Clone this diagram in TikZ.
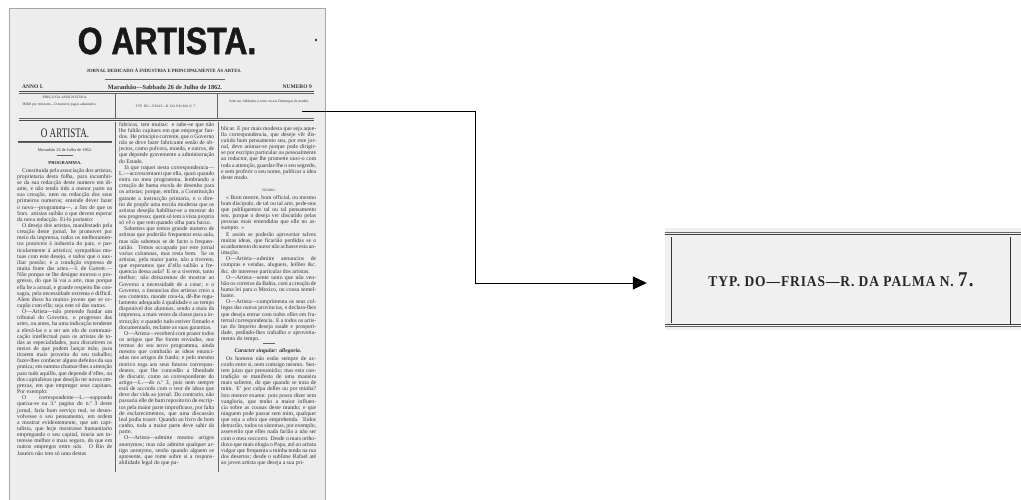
\documentclass[tikz,border=0pt]{standalone}
\usepackage{fontspec}
\usepackage{tikz}
\usetikzlibrary{calc,arrows.meta}

\setmainfont{Liberation Serif}
\newfontfamily\titrefont[FakeStretch=0.84,FakeBold=1.2]{Liberation Sans}
\newfontfamily\etroitfont[FakeStretch=0.7]{Liberation Serif}
\newfontfamily\typfont[LetterSpace=6,FakeStretch=0.9]{Liberation Serif}

\newcommand{\al}{\par\hspace*{5pt}}
\newcommand{\tiret}{—\allowbreak}

\newcommand{\colonneA}{\hspace*{5pt}Constituida pela associação dos artistas, proprietaria desta folha, para incumbir-se da sua redacção deste numero em diante, e não tendo tido a menor parte na sua creação, nem na redacção dos seus primeiros numeros; entende dever fazer o novo\tiret programma\tiret, a fim de que os Snrs. artistas saibão o que devem esperar da nova redacção. Ei-lo portanto:
\al O desejo dos artistas, manifestado pela creação deste jornal, he promover por meio da imprensa, todos os melhoramentos possiveis á industria do paiz, e particularmente á artistica; sympathias mutuas com este desejo, e todos que o auxiliar possão; e a condição expressa de muita fonte das artes.\tiret I. de Garrett.\tiret Não porque se lhe designe moroso o progresso, do que lá vai a arte, mas porque ella he a actual, e grande respeito lhe consagra, pela necessidade extrema e difficil. Alem disso ha muitos jovens que se occupão com ella; seja este só das outras.
\al O\tiret Artista\tiret não pretende fundar um tribunal do Governo, o progresso das artes, ou antes, ha uma indicação tendente a elevá-las e a ser um elo de communicação intellectual para os artistas de todas as especialidades, para discutirem os meios de que podem lançar mão, para tirarem mais proveito do seu trabalho; fazer-lhes conhecer alguns defeitos da sua pratica; em summa chamar-lhes a attenção para tudo aquillo, que depende d'elles, ou dos capitalistas que desejão ter novas emprezas, em que empregar seus capitaes. Por exemplo:
\al O correspondente\tiret L.\tiret suppondo queixa-se na 3.ª pagina do n.º 3 deste jornal, faria hum serviço real, se desenvolvesse o seu pensamento, em ordem a mostrar evidentemente, que um capitalista, que hoje mostrasse humanitario empregando o seu capital, tiraria um interesse melhor e mais seguro, do que em outros empregos entre nós. O Rio de Janeiro não tem só uma destas}

\newcommand{\colonneB}{fabricas, tem muitas: e sabe-se que não lhe faltão capitaes em que empregar fundos. He principio corrente, que o Governo não se deve fazer fabricante senão de objectos, como polvora, moeda, e outros, de que depende gravemente a administração do Estado.
\al Já que toquei nesta correspondencia\tiret L.\tiret accrescentarei que ella, quasi quando entra no meu programma, lembrando a creação de huma escola de desenho para os artistas; porque, emfim, a Constituição garante a instrucção primaria, e o direito de propôr uma escola moderna que os artistas desejão habilitar-se a mostrar do seu progresso; quem só tem a vista propria só vê o que tem quando olha para baixo.
\al Sabemos que temos grande numero de artistas que poderião frequentar esta aula, mas não sabemos se de facto a frequentarião. Temos occupado por este jornal varias columnas, mas resta bem. Se os artistas, pela maior parte, não a tiverem, que esperamos que d'ella saibão a frequencia dessa aula? E se a tiverem, tanto melhor; não deixaremos de mostrar ao Governo a necessidade de a crear; e o Governo, a instancias dos artistas creio a seu contento, mande crea-la, dê-lhe regulamento adequado á qualidade e ao tempo disponivel dos alumnos, sendo a mais da imprensa, a mais vezes da classe para a instrucção; e quando tudo estiver firmado e documentado, reclame as suas garantias.
\al O\tiret Artista\tiret receberá com prazer todos os artigos que lhe forem enviados, nos termos do seu novo programma, ainda mesmo que combatão as ideas enunciadas nos artigos de fundo; e pelo mesmo motivo roga aos seus futuros correspondentes, que lhe concedão a liberdade de discutir, como ao correspondente do artigo\tiret L.\tiret do n.º 3, pois nem sempre está de accordo com o teor de ideas que deve dar vida ao jornal. Do contrario, não passaria elle de hum repositorio de escriptos pela maior parte improficuos, por falta de esclarecimentos, que uma discussão leal podia trazer. Quando ao livro de bom cunho, toda a maior parte deve sahir da parte.
\al O\tiret Artista\tiret admitte mesmo artigos anonymos; mas não admitte qualquer artigo anonymo, senão quando alguem se apresente, que tome sobre si a responsabilidade legal do que pu-}

\newcommand{\colonneCa}{blicar. E por mais modesta que seja aquella correspondencia, que deseje vêr discutido hum pensamento seu, por este jornal, deve animar-se porque pode dirigir-se por escripto particular ou pessoalmente ao redactor, que lhe promette ouvi-o com toda a attenção, guardar-lhe o seu segredo, e sem proferir o seu nome, publicar a idea deste modo.}

\newcommand{\colonneCb}{\hspace*{5pt}« Bom mestre, bom official, ou mesmo bom discipulo, de tal ou tal arte, pede-nos que publiquemos tal ou tal pensamento seu, porque o deseja ver discutido pelas pessoas mais entendidas que elle no assumpto. »
\al E assim se poderão aproveitar talvez muitas ideas, que ficarião perdidas se o acanhamento do autor não achasse esta animação.
\al O\tiret Artista\tiret admitte annuncios de compras e vendas, alugueis, leilões \&c. \&c. de interesse particular dos artistas.
\al O\tiret Artista\tiret sente tanto que não venhão os correios da Bahia, com a creação de huma lei para o Mexico, ou cousa semelhante.
\al O\tiret Artista\tiret cumprimenta os seus collegas das outras provincias, e declara-lhes que deseja entrar com todos elles em fraternal correspondencia. E a todos os artistas do Imperio deseja saude e prosperidade, pedindo-lhes trabalho e aproveitamento do tempo.}

\newcommand{\colonneCc}{\hspace*{5pt}Os homens não estão sempre de accordo entre si, nem comsigo mesmo. Sentem juizo que presumirão; mas esta contradição se manifesta de uma maneira mais saliente, do que quando se trata de mim. E' por culpa delles ou por minha? Isto merece exame: pois posso dizer sem vangloria, que tenho a maior influencia sobre as cousas deste mundo; e que ninguem pode passar sem mim, qualquer que seja a obra que emprehenda. Todos detractão, todos os sistemas, por exemplo, asseverão que elles nada farião a não ser com o meu soccorro. Desde o mais orthodoxo que mais elogia o Papa, até ao artista vulgar que frequenta a minha tenda na rua dos desertos; desde o sublime Rafael até ao joven artista que deseja a sua pri-}

\begin{document}
\begin{tikzpicture}[x=1pt,y=-1pt,
    corps/.style={anchor=north west, inner sep=0pt, text width=95pt, align=justify, text=black!80,
        font=\fontsize{5.7}{6.15}\selectfont,
        execute at begin node={\tolerance=9999\emergencystretch=6pt\hyphenpenalty=20}},
    petit/.style={inner sep=0pt, text=black!80, font=\fontsize{3.6}{5}\selectfont},
    filet/.style={black!70, line width=0.9pt},
    fin/.style={black!60, line width=0.35pt},
    fleche/.style={-{Triangle[length=14pt,width=13pt]}, line width=1pt}]
    \useasboundingbox (0,0) rectangle (1021,500);

    % Page du journal
    \fill[black!7] (9,8) rectangle (325,500);
    \draw[black!35] (9,500) -- (9,8) -- (325,8) -- (325,500);

    % Titre
    \node[inner sep=0pt, text=black!90, font=\fontsize{38}{38}\titrefont\bfseries] (titre) at (167,41) {O ARTISTA.};
    \fill[black!80] (316,40) circle (1.4);
    \node[inner sep=0pt, text=black!80, font=\fontsize{4.8}{5}\selectfont\bfseries] (soustitre) at (164,70)
        {JORNAL DEDICADO Á INDUSTRIA E PRINCIPALMENTE ÁS ARTES.};
    \draw[fin, line width=0.6pt] (105,79) -- (225,79);

    % Ligne de date
    \node[petit, anchor=west, font=\fontsize{5.5}{6}\selectfont\bfseries] (anno) at (22,87) {ANNO I.};
    \node[petit, font=\fontsize{6.3}{6}\selectfont\bfseries] (date) at (165,87) {Maranhão—Sabbado 26 de Julho de 1862.};
    \node[petit, anchor=east, font=\fontsize{5.5}{6}\selectfont\bfseries] (numero) at (312,87) {NUMERO 9};
    \draw[filet] (19,91.5) -- (314,91.5);
    \draw[fin] (19,93.5) -- (314,93.5);

    % Cases de l'en-tete
    \draw[fin] (115,94) -- (115,119);
    \draw[fin] (217,94) -- (217,119);
    \node[petit] (preco) at (65,98) {PREÇO DA ASSIGNATURA.};
    \node[petit, anchor=north west, text width=94pt, align=justify] (prix) at (18,103)
        {\hspace*{4pt}3\$000 por trimestre—O numeros pagos adiantados.};
    \node[petit, font=\fontsize{3.6}{5}\typfont] (typ) at (166,106) {TYP. DO—FRIAS—R. DA PALMA N. 7.};
    \node[petit, anchor=north west, text width=94pt, align=justify] (sahe) at (221,100)
        {\hspace*{8pt}Sahe aos Sabbados á noite ou aos Domingos de manhã.};
    \draw[fin] (19,118.5) -- (314,118.5);
    \draw[filet] (19,120.5) -- (314,120.5);

    % Colonnes
    \draw[fin] (115,122) -- (115,472);
    \draw[fin] (218,122) -- (218,472);
    \node[inner sep=0pt, text=black!85, font=\fontsize{13}{13}\etroitfont] (titrecol) at (65,133) {O ARTISTA.};
    \draw[filet, line width=0.7pt] (18,141) -- (112,141);
    \draw[fin] (18,142.6) -- (112,142.6);
    \node[petit, font=\fontsize{4.3}{5}\selectfont] (datecol) at (65,150) {\textsc{Maranhão 26 de Julho de 1862.}};
    \draw[fin] (57,155.5) -- (73,155.5);
    \node[petit, font=\fontsize{4.6}{5}\selectfont\bfseries] (programma) at (65,163) {PROGRAMMA.};
    \node[petit, font=\fontsize{3.4}{5}\selectfont] (pedido) at (269,190) {PEDIDO.};
    \draw[fin] (263,343) -- (275,343);
    \node[petit, font=\fontsize{5.6}{6}\selectfont\bfseries\itshape] (caracter) at (268,351) {Caracter singular: allegoria.};
    \begin{scope}
        \clip (15,121) rectangle (320,472);
        \node[corps] (colA) at (17,168) {\colonneA};
        \node[corps] (colB) at (119,122) {\colonneB};
        \node[corps] (colCa) at (221,126) {\colonneCa};
        \node[corps] (colCb) at (221,195) {\colonneCb};
        \node[corps] (colCc) at (221,356) {\colonneCc};
    \end{scope}

    % Agrandissement
    \node[fill=black!6, minimum width=356pt, minimum height=102pt, inner sep=0pt] (zoom) at (843,279) {};
    \node[inner sep=0pt, text=black!85, font=\fontsize{15}{15}\typfont\bfseries] (zoomtxt) at (841,280)
        {TYP. DO—FRIAS—R. DA PALMA N. {\fontsize{21}{21}\selectfont 7.}};
    \draw[black!60, line width=0.5pt] (zoom.north west) ++(0,4) -- ++(356,0);
    \draw[black!75, line width=1.2pt] (zoom.north west) ++(0,6.5) -- ++(356,0);
    \draw[black!75, line width=1.2pt] (zoom.south west) ++(0,-6) -- ++(356,0);
    \draw[black!60, line width=0.5pt] (zoom.south west) ++(0,-4) -- ++(356,0);
    \draw[black!80, line width=0.8pt] (671,237) -- (671,323);
    \draw[black!80, line width=0.8pt] (1010,237) -- (1010,325);

    % Fleche
    \coordinate (src) at (302,112);
    \coordinate (coude) at (475,283);
    \draw[fleche, shorten >=18pt] (src) -| (coude) -- (coude -| zoom.west);
\end{tikzpicture}
\end{document}
